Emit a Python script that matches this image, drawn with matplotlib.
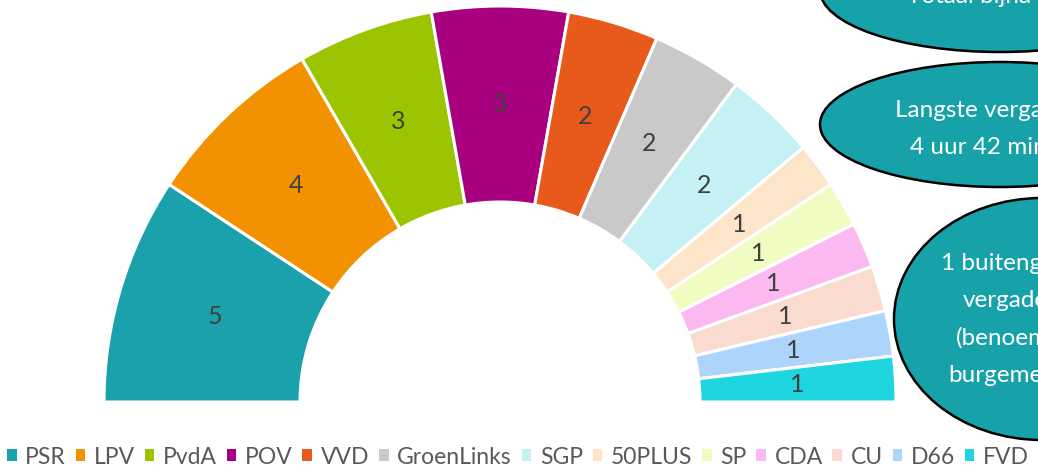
import matplotlib
matplotlib.use("Agg")
import matplotlib.pyplot as plt
from matplotlib.patches import Ellipse
import numpy as np

parties = ["PSR", "LPV", "PvdA", "POV", "VVD", "GroenLinks", "SGP",
           "50PLUS", "SP", "CDA", "CU", "D66", "FVD"]
seats = [5, 4, 3, 3, 2, 2, 2, 1, 1, 1, 1, 1, 1]
colors = ["#1AA1AB", "#F29200", "#9CC400", "#A8007F", "#E85A1C", "#C9C9C9",
          "#C5F1F5", "#FCE5C9", "#F1FCC2", "#FBB9F0", "#F9DBCF", "#ADD5FB",
          "#1ED5E0"]

notes_1 = ["Totaal bijna"]
notes_2 = ["Langste vergadering:", "4 uur 42 minuten"]
notes_3 = ["1 buitengewone", "vergadering", "(benoeming", "burgemeester)"]

plt.rcParams['font.family'] = ['Lato', 'DejaVu Sans']

W, H = 1038, 470
fig = plt.figure(figsize=(W / 100, H / 100), dpi=100)
ax = fig.add_axes([0, 0, 1, 1])

cx, cy = 500, H - 402
r_out, ring = 396, 196
total = sum(seats)
wedges, _ = ax.pie(seats + [total], colors=colors + ["none"], startangle=180,
                   counterclock=False, center=(cx, cy), radius=r_out,
                   wedgeprops=dict(width=ring, edgecolor="white", linewidth=2.2))
wedges[-1].set_visible(False)

r_mid = r_out - ring / 2
for w, s in zip(wedges[:-1], seats):
    th = np.deg2rad((w.theta1 + w.theta2) / 2)
    ax.text(cx + r_mid * np.cos(th), cy + r_mid * np.sin(th), str(s),
            ha="center", va="center", fontsize=18, color="#404040")

ax.set_xlim(0, W)
ax.set_ylim(0, H)
ax.set_aspect("auto")
ax.axis("off")

teal = "#17A2AA"
for (ex, ey, ew, eh) in [(1000, -10, 360, 124), (1000, 124.5, 360, 125),
                         (1042, 319, 296, 242)]:
    ax.add_patch(Ellipse((ex, H - ey), ew, eh, facecolor=teal,
                         edgecolor="black", linewidth=1.8, zorder=5))

def note(lines, xs, ys):
    for t, x, y in zip(lines, xs, ys):
        ax.text(x, H - y, t, ha="left", va="baseline", fontsize=17.5,
                color="white", zorder=6)

note(notes_1, [907], [3])
note(notes_2, [895, 910], [117, 154])
note(notes_3, [941, 963, 956, 948], [270, 307, 345, 382])

leg = fig.legend(wedges[:-1], parties, loc="center left",
                 bbox_to_anchor=(7 / W, 1 - 457 / H), ncol=len(parties),
                 frameon=False, fontsize=16.5, handlelength=0.42,
                 handleheight=0.42, handletextpad=0.375, columnspacing=0.425,
                 borderpad=0, borderaxespad=0, labelcolor="#595959")
for h in leg.legend_handles:
    h.set_edgecolor("none")

fig.savefig("out.png", dpi=100)
